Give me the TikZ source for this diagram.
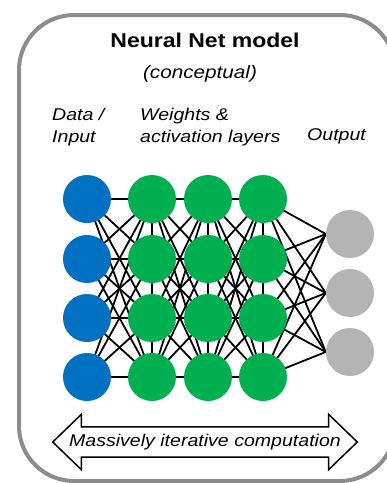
\documentclass[tikz,border=0pt]{standalone}
\usepackage{fontspec}
\setmainfont{Liberation Sans}[FakeStretch=1.15]
\usetikzlibrary{shapes.arrows, backgrounds}
\definecolor{inblue}{HTML}{0070C0}
\definecolor{hidgreen}{HTML}{00B050}
\definecolor{outgray}{HTML}{B4B4B4}
\definecolor{framegray}{HTML}{8C8C8C}

\begin{document}
\begin{tikzpicture}[
  x=1pt, y=-1pt,
  neuron/.style={circle, minimum size=48pt, inner sep=0pt},
  link/.style={line width=1.8pt},
  layertext/.style={font=\fontsize{17}{22}\selectfont\itshape, align=left, inner sep=0pt, anchor=north west}
]
\useasboundingbox (0,0) rectangle (387,483);
\draw[framegray, line width=4pt, rounded corners=55pt] (19,15) rectangle (395,481);

\node[font=\fontsize{20}{24}\selectfont\bfseries, inner sep=0pt, anchor=base] (title) at (205,47) {Neural Net model};
\node[font=\fontsize{18}{22}\selectfont\itshape, inner sep=0pt, anchor=base] (sub) at (200,78) {(conceptual)};
\node[layertext] (data) at (52,108) {Data /\\Input};
\node[layertext] (weights) at (140,108) {Weights \&\\activation layers};
\node[layertext, anchor=base west] (output) at (307,140) {Output};

% layers
\foreach \r/\y in {1/199,2/259,3/318,4/377} {
  \node[neuron, fill=inblue] (in\r) at (87,\y) {};
  \node[neuron, fill=hidgreen] (ha\r) at (152,\y) {};
  \node[neuron, fill=hidgreen] (hb\r) at (208,\y) {};
  \node[neuron, fill=hidgreen] (hc\r) at (263,\y) {};
}
\foreach \r/\y in {1/234,2/293,3/352}
  \node[neuron, fill=outgray] (out\r) at (350,\y) {};

% connections, behind the circles
\begin{pgfonlayer}{background}
\foreach \i in {1,...,4} \foreach \j in {1,...,4} {
  \draw[link] (in\i.center) -- (ha\j.center);
  \draw[link] (ha\i.center) -- (hb\j.center);
  \draw[link] (hb\i.center) -- (hc\j.center);
}
\foreach \i in {1,...,4} \foreach \j in {1,2,3}
  \draw[link] (hc\i.center) -- (out\j.west);
\foreach \c in {ha,hb,hc} \foreach \i/\j in {1/2,2/3,3/4}
  \draw[link] (\c\i) -- (\c\j);
\end{pgfonlayer}

\node[double arrow, draw=black, line width=1.5pt, fill=white,
  double arrow head extend=12.5pt, double arrow tip angle=88,
  minimum height=296pt, inner ysep=6.5pt, inner xsep=0pt,
  font=\fontsize{17}{20}\selectfont\itshape] (iter) at (205,442) {Massively iterative computation};
\end{tikzpicture}
\end{document}
